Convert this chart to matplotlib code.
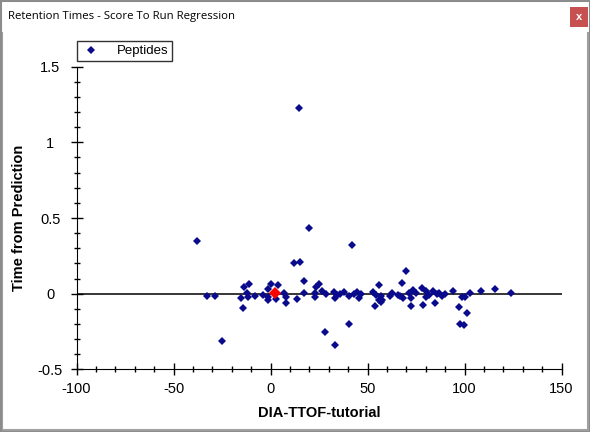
import matplotlib
matplotlib.use("Agg")
import matplotlib.pyplot as plt
from matplotlib.patches import Rectangle
from matplotlib.lines import Line2D
from matplotlib.ticker import MultipleLocator

plt.rcParams['font.family'] = ['Liberation Sans', 'DejaVu Sans']

# Peptide points (x = DIA-TTOF-tutorial score, y = time from prediction)
pep_x = [14.5, 19.7, -37.8, 42.2, 12.3, 15.0, 17.5, -13.9, -11.1, 0.0, 3.8, -1.4,
         -32.6, -28.5, -15.2, -14.2, -12.1, -11.4, -8.0, -4.0, -1.4, -1.4, 2.7, 6.8,
         8.2, 7.9, 13.5, 17.5, 22.8, 23.1, 23.6, 24.9, 26.3, 28.7, 27.9, 33.0, 32.9,
         34.2, 33.5, 35.6, 38.0, 40.6, 40.7, 43.1, 44.5, 45.8, 46.9, 53.0, 54.1, 56.0,
         56.0, -25.0, 54.4, 56.8, 57.5, 57.2, 61.6, 62.8, 65.7, 66.7, 68.4, 67.9, 70.0,
         71.2, 72.2, 72.4, 73.6, 75.0, 78.2, 78.7, 80.3, 80.1, 81.5, 83.9, 84.9, 85.6,
         86.9, 88.5, 90.0, 94.1, 97.1, 98.8, 100.0, 101.3, 97.5, 99.7, 102.8, 108.5,
         115.7, 123.9]
pep_y = [1.23, 0.437, 0.35, 0.324, 0.205, 0.212, 0.086, 0.046, 0.062, 0.062, 0.055, 0.033,
         -0.013, -0.013, -0.026, -0.093, 0.002, -0.02, -0.013, -0.007, -0.044, -0.022, -0.033, 0.007,
         -0.022, -0.06, -0.038, 0.007, 0.007, -0.02, 0.046, 0.062, 0.015, -0.003, -0.251, -0.337, 0.009,
         -0.009, -0.031, 0.0, 0.011, -0.016, -0.198, 0.0, 0.009, -0.029, 0.0, 0.009, -0.079, 0.055,
         -0.044, -0.311, -0.007, -0.013, -0.044, -0.053, -0.013, 0.002, -0.011, -0.013, -0.029, 0.073, 0.152,
         0.002, -0.029, -0.079, 0.022, 0.002, 0.04, -0.073, 0.015, -0.02, -0.011, 0.015, -0.064, 0.0,
         0.004, -0.016, -0.004, 0.015, -0.086, -0.02, -0.02, -0.13, -0.198, -0.205, 0.002, 0.015,
         0.028, 0.007]
sel_x = [2.2]
sel_y = [0.007]
x_ticks = [-100, -50, 0, 50, 100, 150]
y_ticks = [-0.5, 0, 0.5, 1, 1.5]
y_tick_labels = ['-0.5', '0', '0.5', '1', '1.5']

W, H = 590, 432
fig = plt.figure(figsize=(W / 100, H / 100), dpi=100, facecolor='white')

# window frame
fig.patches.append(Rectangle((0.5 / W, 0.5 / H), (W - 1) / W, (H - 1) / H, transform=fig.transFigure,
                             facecolor='none', edgecolor='#8c8c8c', linewidth=1.5, zorder=-5))
for xs, ys in [([2, 2], [2, H - 33]), ([W - 2, W - 2], [2, H - 33]), ([2, W - 2], [2, 2])]:
    fig.lines.append(Line2D([x / W for x in xs], [y / H for y in ys], transform=fig.transFigure,
                            color='#a0a0a0', linewidth=1.5, zorder=-5))
fig.text(8 / W, 1 - 16 / H, 'Retention Times - Score To Run Regression',
         fontsize=8.2, va='center', ha='left', family=['Open Sans', 'DejaVu Sans'], color='black')
fig.patches.append(Rectangle((570 / W, 1 - 27 / H), 18 / W, 20 / H, transform=fig.transFigure,
                             facecolor='#c75050', edgecolor='none', zorder=-4))
fig.text(579 / W, 1 - 17 / H, 'x', fontsize=8, color='white', ha='center', va='center',
         fontweight='bold')

L, R, T, B = 76.5, 561.5, 66.7, 369.3
ax = fig.add_axes([L / W, 1 - B / H, (R - L) / W, (B - T) / H])
ax.set_xlim(-100, 150)
ax.set_ylim(-0.5, 1.5)
ax.spines['top'].set_visible(False)
ax.spines['right'].set_visible(False)
ax.xaxis.set_minor_locator(MultipleLocator(10))
ax.yaxis.set_minor_locator(MultipleLocator(0.1))
ax.tick_params(which='major', direction='inout', length=8, width=1, labelsize=10.5)
ax.tick_params(which='minor', direction='inout', length=3.8, width=1)
ax.tick_params(axis='x', which='major', pad=5)
ax.tick_params(axis='y', which='major', pad=15)
ax.set_xticks(x_ticks)
ax.set_xticklabels([str(v) for v in x_ticks])
ax.set_yticks(y_ticks)
ax.set_yticklabels(y_tick_labels)
for lab in ax.get_yticklabels():
    lab.set_horizontalalignment('center')

ax.axhline(0, color='black', linewidth=1.1, zorder=1)
ax.plot(pep_x, pep_y, linestyle='none', marker='D', markersize=4.3, color='#0a0a8c',
        markeredgewidth=0, label='Peptides', zorder=2)
ax.plot(sel_x, sel_y, linestyle='none', marker='D', markersize=6.5, color='#ff0000',
        markeredgewidth=0, zorder=3)

ax.set_xlabel('DIA-TTOF-tutorial', fontsize=10.5, fontweight='bold', labelpad=7)
ax.set_ylabel('Time from Prediction', fontsize=10.5, fontweight='bold')
ax.yaxis.set_label_coords((19 - L) / (R - L), 0.5)
ax.yaxis.label.set_verticalalignment('center')

leg = ax.legend(loc='upper left', bbox_to_anchor=(77 / W, 1 - 41 / H), bbox_transform=fig.transFigure,
                frameon=True, fancybox=False, fontsize=9.5, borderpad=0.3, handletextpad=1.2,
                handlelength=1.5, borderaxespad=0, markerscale=1.0)
leg.get_frame().set_edgecolor('black')
leg.get_frame().set_linewidth(1.0)

fig.savefig('out.png', dpi=100)
